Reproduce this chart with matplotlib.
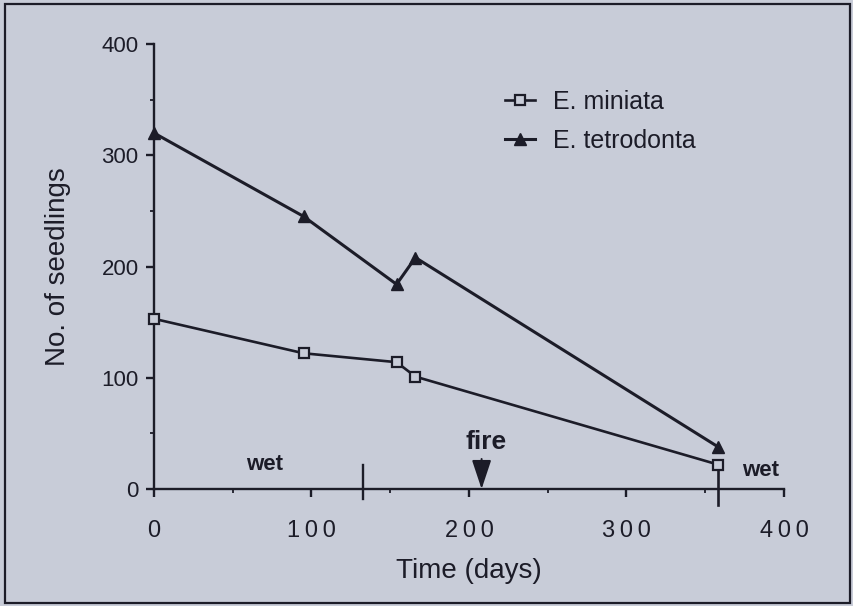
import matplotlib
matplotlib.use("Agg")
import matplotlib.pyplot as plt
from matplotlib.patches import Rectangle
from matplotlib.ticker import MultipleLocator

plt.rcParams["font.family"] = ["Liberation Sans", "DejaVu Sans"]

# data
days_miniata = [0, 95, 154, 166, 358]
seedlings_miniata = [153, 122, 114, 101, 22]
days_tetrodonta = [0, 95, 154, 166, 358]
seedlings_tetrodonta = [320, 245, 184, 208, 38]

x_ticks = [0, 100, 200, 300, 400]
y_ticks = [0, 100, 200, 300, 400]
season_breaks = [133, 358]
fire_day = 208

bg = "#c8ccd8"
ink = "#1c1c28"

fig = plt.figure(figsize=(8.54, 6.06), dpi=100, facecolor=bg)
fig.patches.append(Rectangle((0.006, 0.005), 0.989, 0.988, transform=fig.transFigure,
                             fill=False, edgecolor=ink, linewidth=1.6))

ax = fig.add_axes([154 / 854, 1 - 489 / 606, 630 / 854, 445 / 606])
ax.set_facecolor(bg)

ax.plot(days_miniata, seedlings_miniata, color=ink, lw=1.9, marker="s", ms=7,
        mfc=bg, mec=ink, mew=1.6, label="E. miniata", clip_on=False, zorder=4)
ax.plot(days_tetrodonta, seedlings_tetrodonta, color=ink, lw=2.2, marker="^", ms=9,
        mfc=ink, mec=ink, label="E. tetrodonta", clip_on=False, zorder=4)

ax.set_xlim(0, 400)
ax.set_ylim(0, 400)
for s in ["top", "right"]:
    ax.spines[s].set_visible(False)
for s in ["left", "bottom"]:
    ax.spines[s].set_linewidth(1.7)
    ax.spines[s].set_color(ink)

ax.set_xticks(x_ticks)
ax.set_xticklabels(["\u2009".join(str(v)) for v in x_ticks])
ax.set_yticks(y_ticks)
ax.xaxis.set_minor_locator(MultipleLocator(50))
ax.yaxis.set_minor_locator(MultipleLocator(50))
ax.tick_params(which="major", direction="out", length=6, width=1.7, color=ink)
ax.tick_params(which="minor", direction="out", length=3, width=1.3, color=ink)
ax.tick_params(axis="x", which="major", labelsize=17, pad=16, labelcolor=ink)
ax.tick_params(axis="y", which="major", labelsize=16, pad=5, labelcolor=ink)

ax.set_xlabel("Time (days)", fontsize=20, color=ink, labelpad=12)
ax.set_ylabel("No. of seedlings", fontsize=20, color=ink, labelpad=22)

# season divisions
ax.plot([season_breaks[0]] * 2, [-9, 22], color=ink, lw=1.7, clip_on=False)
ax.plot([season_breaks[1]] * 2, [-14, 22], color=ink, lw=1.9, clip_on=False, zorder=3)
ax.text(70, 22, "wet", fontsize=16, fontweight="bold", ha="center", va="center", color=ink)
ax.text(385, 17, "wet", fontsize=16, fontweight="bold", ha="center", va="center", color=ink)

# fire
ax.text(fire_day + 3, 42, "fire", fontsize=19, fontweight="bold", ha="center", va="center", color=ink)
ax.annotate("", xy=(fire_day, 0), xytext=(fire_day, 27),
            arrowprops=dict(arrowstyle="-|>,head_length=0.9,head_width=0.3",
                            mutation_scale=20, color=ink, lw=1.4, shrinkA=0, shrinkB=0))

leg = ax.legend(loc="upper left", bbox_to_anchor=(0.522, 0.948), frameon=False,
                fontsize=18, handlelength=1.2, handletextpad=0.7, labelspacing=0.6)
for t in leg.get_texts():
    t.set_color(ink)

fig.savefig("out.png", dpi=100, facecolor=bg)
